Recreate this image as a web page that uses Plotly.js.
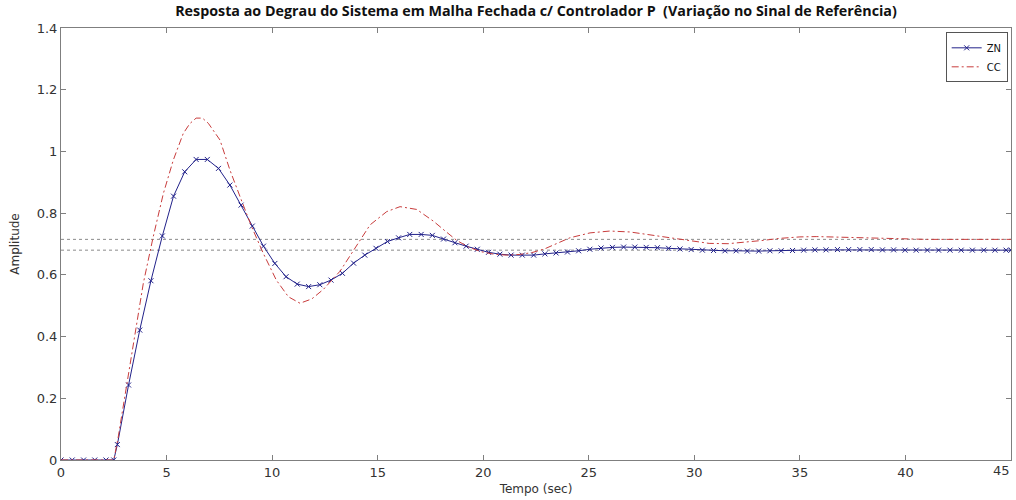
<!DOCTYPE html>
<html>
<head>
<meta charset="utf-8">
<script src="https://cdn.plot.ly/plotly-3.0.1.min.js"></script>
<style>html,body{margin:0;padding:0;background:#fff;}#chart{width:1016px;height:500px;}</style>
</head>
<body>
<div id="chart"></div>
<script>
// ZN response (marker samples)
const znTime = [0, 0.53, 1.07, 1.60, 2.13, 2.50, 2.67, 3.20, 3.73, 4.26, 4.80, 5.33, 5.86, 6.40, 6.93, 7.46, 8.00, 8.53, 9.06, 9.59, 10.13, 10.66, 11.19, 11.73, 12.26, 12.79, 13.33, 13.86, 14.39, 14.92, 15.46, 15.99, 16.52, 17.06, 17.59, 18.12, 18.66, 19.19, 19.72, 20.25, 20.79, 21.32, 21.85, 22.39, 22.92, 23.45, 23.99, 24.52, 25.05, 25.58, 26.12, 26.65, 27.18, 27.72, 28.25, 28.78, 29.32, 29.85, 30.38, 30.91, 31.45, 31.98, 32.51, 33.05, 33.58, 34.11, 34.65, 35.18, 35.71, 36.24, 36.78, 37.31, 37.84, 38.38, 38.91, 39.44, 39.98, 40.51, 41.04, 41.57, 42.11, 42.64, 43.17, 43.71, 44.24, 44.77, 45.0];
const znValues = [0, 0, 0, 0, 0, 0, 0.050, 0.243, 0.421, 0.581, 0.726, 0.855, 0.934, 0.974, 0.974, 0.945, 0.891, 0.826, 0.758, 0.693, 0.637, 0.594, 0.570, 0.562, 0.568, 0.583, 0.605, 0.638, 0.664, 0.686, 0.708, 0.720, 0.731, 0.731, 0.728, 0.716, 0.704, 0.693, 0.683, 0.673, 0.667, 0.664, 0.664, 0.664, 0.668, 0.671, 0.674, 0.678, 0.683, 0.687, 0.689, 0.690, 0.690, 0.689, 0.688, 0.686, 0.684, 0.682, 0.680, 0.679, 0.678, 0.678, 0.677, 0.677, 0.678, 0.678, 0.679, 0.680, 0.681, 0.681, 0.682, 0.682, 0.682, 0.682, 0.681, 0.681, 0.680, 0.680, 0.680, 0.680, 0.680, 0.680, 0.680, 0.680, 0.680, 0.680, 0.680];

// CC response
const ccTime = [0, 2.5, 2.7, 3.2, 3.6, 3.9, 4.37, 4.85, 5.32, 5.79, 6.1, 6.4, 6.7, 6.98, 7.53, 8.0, 8.5, 9.03, 9.58, 10.2, 10.77, 11.32, 11.88, 12.43, 13.22, 13.85, 14.64, 15.43, 16.06, 16.85, 17.64, 18.2, 18.74, 19.3, 19.9, 20.5, 21.1, 21.7, 22.3, 22.9, 23.5, 24.1, 25.06, 26.0, 26.95, 28.06, 29.3, 30.7, 31.6, 32.5, 33.3, 34.0, 35.0, 35.8, 36.8, 38.0, 39.5, 41.0, 43.0, 45.0];
const ccValues = [0, 0, 0.07, 0.28, 0.45, 0.573, 0.724, 0.864, 0.972, 1.058, 1.09, 1.108, 1.108, 1.091, 1.037, 0.94, 0.85, 0.756, 0.67, 0.583, 0.529, 0.508, 0.522, 0.553, 0.612, 0.68, 0.762, 0.805, 0.821, 0.812, 0.774, 0.742, 0.712, 0.69, 0.675, 0.667, 0.664, 0.666, 0.672, 0.684, 0.702, 0.72, 0.736, 0.742, 0.739, 0.728, 0.714, 0.702, 0.701, 0.706, 0.712, 0.718, 0.723, 0.724, 0.722, 0.719, 0.716, 0.715, 0.715, 0.715];

// steady-state reference levels
const steadyLevels = [0.715, 0.680];

const xTicks = [0, 5, 10, 15, 20, 25, 30, 35, 40, 45];
const xTickLabels = ['0', '5', '10', '15', '20', '25', '30', '35', '40', '45'];
const yTicks = [0, 0.2, 0.4, 0.6, 0.8, 1, 1.2, 1.4];
const yTickLabels = ['0', '0.2', '0.4', '0.6', '0.8', '1', '1.2', '1.4'];

const blue = '#22228a';
const red = '#c83c3c';

const traces = [
  {
    x: znTime, y: znValues, name: 'ZN', mode: 'lines+markers', type: 'scatter',
    line: {color: blue, width: 1},
    marker: {symbol: 'x-thin', size: 5, color: blue, line: {color: blue, width: 1}}
  },
  {
    x: ccTime, y: ccValues, name: 'CC', mode: 'lines', type: 'scatter',
    line: {color: red, width: 1, dash: '7px,3px,2px,3px'}
  }
];

const shapes = steadyLevels.map(v => ({
  type: 'line', xref: 'paper', x0: 0, x1: 1, yref: 'y', y0: v, y1: v,
  line: {color: '#8a8a8a', width: 1, dash: 'dot'}, layer: 'below'
}));

const tickFont = {family: 'DejaVu Sans', size: 13, color: '#333'};

const axisCommon = {
  showgrid: false, zeroline: false, showline: true, linecolor: '#7f7f7f', linewidth: 1,
  mirror: 'ticks', ticks: 'inside', ticklen: 5, tickcolor: '#7f7f7f',
  tickfont: tickFont
};

// all x tick labels but the last come from the axis; the last one is right-aligned so it stays inside the page
const lastIdx = xTicks.length - 1;
const axisTickText = xTickLabels.map((t, i) => i === lastIdx ? '' : t);

const layout = {
  width: 1016, height: 500,
  margin: {l: 61, r: 5, t: 28, b: 40},
  paper_bgcolor: '#fff', plot_bgcolor: '#fff',
  title: {
    text: '<b>Resposta ao Degrau do Sistema em Malha Fechada c/ Controlador P  (Variação no Sinal de Referência)</b>',
    font: {family: 'Open Sans', size: 14.3, color: '#111'},
    x: 0.5, xref: 'paper', xanchor: 'center', y: 0.978, yanchor: 'middle'
  },
  xaxis: Object.assign({}, axisCommon, {
    range: [0, 45], tickvals: xTicks, ticktext: axisTickText,
    title: {text: 'Tempo (sec)', font: {family: 'DejaVu Sans', size: 12, color: '#333'}, standoff: 6}
  }),
  yaxis: Object.assign({}, axisCommon, {
    range: [0, 1.4], tickvals: yTicks, ticktext: yTickLabels,
    title: {text: 'Amplitude', font: {family: 'DejaVu Sans', size: 12, color: '#333'}, standoff: 14}
  }),
  annotations: [{
    text: xTickLabels[lastIdx], x: xTicks[lastIdx], xref: 'x', y: 0, yref: 'paper',
    xanchor: 'right', yanchor: 'top', yshift: -1, xshift: 1, showarrow: false, font: tickFont
  }],
  shapes: shapes,
  showlegend: true,
  legend: {
    x: 0.9965, y: 0.99, xanchor: 'right', yanchor: 'top',
    bgcolor: '#fff', bordercolor: '#555', borderwidth: 1,
    font: {family: 'DejaVu Sans', size: 10, color: '#111'},
    itemwidth: 30, tracegroupgap: 0
  }
};

Plotly.newPlot('chart', traces, layout, {displayModeBar: false, responsive: false});
</script>
</body>
</html>
